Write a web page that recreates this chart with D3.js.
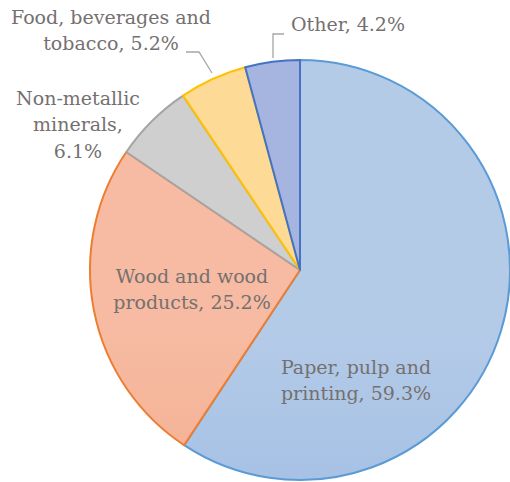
<html lang="en">
<head>
<style>
body { margin: 0; background: #fff; }
</style>
</head>
<body>
<script src="https://d3js.org/d3.v7.min.js"></script>
<script>
var categories = ["Paper, pulp and printing", "Wood and wood products", "Non-metallic minerals", "Food, beverages and tobacco", "Other"];
var shares = [59.3, 25.2, 6.1, 5.2, 4.2];
var labelLines = [
    ["Paper, pulp and", "printing, 59.3%"],
    ["Wood and wood", "products, 25.2%"],
    ["Non-metallic", "minerals,", "6.1%"],
    ["Food, beverages and", "tobacco, 5.2%"],
    ["Other, 4.2%"]
];
var strokeColors = ["#5b9bd5", "#ed7d31", "#a5a5a5", "#ffc000", "#4472c4"];
var topColors = ["#b4cbe8", "#f6bba2", "#cfcfcf", "#fdda96", "#a6b4e0"];
var bottomColors = ["#8eb1de", "#f2a07c", "#bfbfbf", "#fbcf80", "#8c9fd6"];

var width = 510, height = 482;
var cx = 300, cy = 270, radius = 210;

var svg = d3.select("body").append("svg")
    .attr("width", width)
    .attr("height", height);

var defs = svg.append("defs");
categories.forEach(function (c, i) {
    var g = defs.append("linearGradient")
        .attr("id", "grad" + i)
        .attr("gradientUnits", "userSpaceOnUse")
        .attr("x1", 0).attr("y1", cy - radius)
        .attr("x2", 0).attr("y2", cy + radius);
    g.append("stop").attr("offset", "0%").attr("stop-color", topColors[i]);
    g.append("stop").attr("offset", "100%").attr("stop-color", bottomColors[i]);
});

var pie = d3.pie().sort(null);
var arc = d3.arc().innerRadius(0).outerRadius(radius);
var arcs = pie(shares);

var g = svg.append("g").attr("transform", "translate(" + cx + "," + cy + ")");

g.selectAll("path")
    .data(arcs)
    .enter().append("path")
    .attr("d", arc)
    .attr("fill", function (d, i) { return "url(#grad" + i + ")"; })
    .attr("stroke", function (d, i) { return strokeColors[i]; })
    .attr("stroke-width", 2)
    .attr("stroke-linejoin", "round");

// leader lines for the two small outside labels
var leaders = [
    [[-88, -197], [-101, -218], [-114, -218]],
    [[-27, -212], [-27, -236], [-16, -236]]
];
g.selectAll("polyline")
    .data(leaders)
    .enter().append("polyline")
    .attr("points", function (d) { return d.map(function (p) { return p.join(","); }).join(" "); })
    .attr("fill", "none")
    .attr("stroke", "#a6a6a6")
    .attr("stroke-width", 1.3);

// label anchors (absolute page coordinates of the first line)
var labelPos = [[356, 367], [192, 276], [78, 98], [111, 17], [348, 24]];
var lineH = 26.5;

labelLines.forEach(function (lines, i) {
    var t = svg.append("text")
        .attr("text-anchor", "middle")
        .style("font-family", "DejaVu Serif")
        .style("font-size", "19px")
        .attr("fill", "#757070");
    lines.forEach(function (l, k) {
        t.append("tspan")
            .attr("x", labelPos[i][0])
            .attr("y", labelPos[i][1] + k * lineH)
            .attr("dy", "0.35em")
            .text(l);
    });
});
</script>
</body>
</html>
